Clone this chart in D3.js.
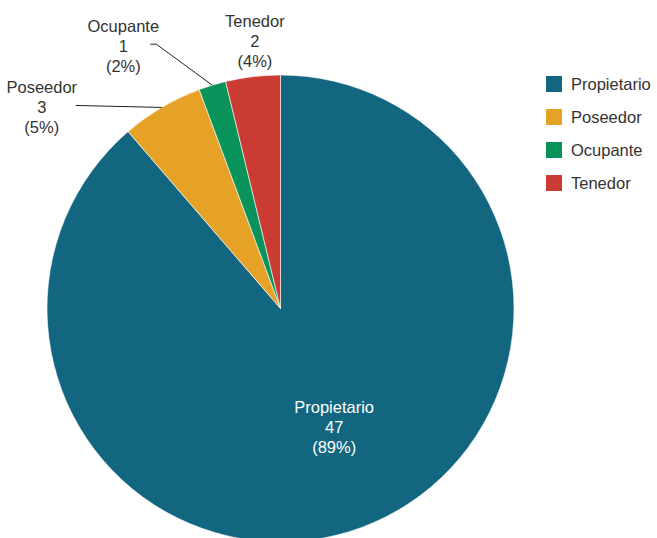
<!DOCTYPE html>
<html><head><meta charset="utf-8">
<script src="https://cdn.jsdelivr.net/npm/d3@7"></script>
<style>html,body{margin:0;padding:0;background:#fff;overflow:hidden}</style>
</head><body>
<svg id="chart" width="657" height="538"></svg>
<script>
const categories = ["Propietario", "Poseedor", "Ocupante", "Tenedor"];
const values = [47, 3, 1, 2];
const percentLabels = ["89%", "5%", "2%", "4%"];
const colors = ["#12667F", "#E6A227", "#08935A", "#C93B33"];

const W = 657, H = 538;
const cx = 280.5, cy = 308.5, R = 233.5;
const FONT = "'Liberation Sans', Arial, sans-serif";
const FS = 16.5;

const svg = d3.select("#chart");
const data = categories.map((c, i) => ({cat: c, value: values[i], pct: percentLabels[i], color: colors[i]}));

const pie = d3.pie().value(d => d.value).sort(null);
const arcs = pie(data);
const arc = d3.arc().innerRadius(0).outerRadius(R);

const g = svg.append("g").attr("transform", `translate(${cx},${cy})`);
g.selectAll("path").data(arcs).enter().append("path")
  .attr("d", arc).attr("fill", d => d.data.color)
  .attr("stroke", "#fff").attr("stroke-width", 0.6);

function edgePoint(a) {
  const m = (a.startAngle + a.endAngle) / 2;
  return [R * Math.sin(m), -R * Math.cos(m)];
}

// label layouts: offsets relative to the slice's outer-edge midpoint
const layout = {
  "Propietario": {inside: true},
  "Poseedor": {dx: -120, dy: 0, line: [[-86, -2]]},
  "Ocupante": {dx: -89, dy: -39, line: [[-56, -41], [-62, -41]]},
  "Tenedor": {dx: 2, dy: -35}
};

arcs.forEach(a => {
  const L = layout[a.data.cat];
  let x, y, fill = "#333";
  if (L.inside) {
    const c = d3.arc().innerRadius(0).outerRadius(R).centroid(a);
    x = c[0] + 13; y = c[1] + 9; fill = "#fff";
  } else {
    const p = edgePoint(a);
    x = p[0] + L.dx; y = p[1] + L.dy;
    if (L.line) {
      const pts = [p].concat(L.line.map(q => [p[0] + q[0], p[1] + q[1]]));
      g.append("path").attr("d", d3.line()(pts))
        .attr("fill", "none").attr("stroke", "#222").attr("stroke-width", 1);
    }
  }
  const t = g.append("text").attr("text-anchor", "middle")
    .attr("font-family", FONT).attr("font-size", FS).attr("fill", fill);
  const lines = [a.data.cat, String(a.data.value), "(" + a.data.pct + ")"];
  lines.forEach((s, i) => {
    t.append("tspan").attr("x", x).attr("y", y + (i - 1) * 20).attr("dy", "0.35em").text(s);
  });
});

// legend
const lg = svg.append("g").attr("transform", "translate(546,76)");
const items = lg.selectAll("g").data(data).enter().append("g")
  .attr("transform", (d, i) => `translate(0,${i * 33})`);
items.append("rect").attr("width", 16).attr("height", 16).attr("fill", d => d.color);
items.append("text").attr("x", 25).attr("y", 8).attr("dy", "0.35em")
  .attr("font-family", FONT).attr("font-size", FS).attr("fill", "#333").text(d => d.cat);
</script>
</body></html>
